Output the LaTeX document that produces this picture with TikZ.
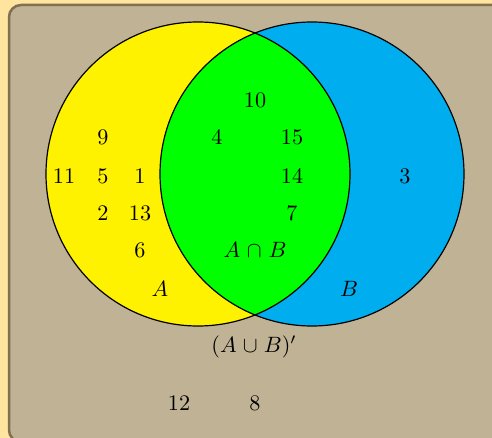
\documentclass[tikz,border=0pt]{standalone}
\definecolor{pageorange}{RGB}{255,228,160}
\definecolor{tanfill}{RGB}{192,178,148}
\definecolor{tanborder}{RGB}{128,112,80}
\definecolor{vyellow}{RGB}{255,242,0}
\definecolor{vblue}{RGB}{0,174,239}
\definecolor{vgreen}{RGB}{0,255,0}
\newcommand{\bigtxt}[1]{\scalebox{2.22}{#1}}
\tikzset{
  lbl/.style={inner sep=0pt},
  setcirc/.style={draw=black, line width=1.2pt}
}
\begin{document}
\begin{tikzpicture}[x=1pt,y=-1pt]
  \useasboundingbox (0,0) rectangle (492,438);
  \fill[pageorange] (0,0) rectangle (492,438);
  \begin{scope}
    \clip (0,0) rectangle (492,438);
    \draw[fill=tanfill, draw=tanborder, line width=2.5pt, rounded corners=12pt] (9,5) rectangle (505,442);
  \end{scope}
  \coordinate (ca) at (198,174);
  \coordinate (cb) at (312,174);
  \fill[vyellow] (ca) circle[radius=152];
  \fill[vblue] (cb) circle[radius=152];
  \begin{scope}
    \clip (ca) circle[radius=152];
    \fill[vgreen] (cb) circle[radius=152];
  \end{scope}
  \draw[setcirc] (ca) circle[radius=152];
  \draw[setcirc] (cb) circle[radius=152];

  \node[lbl] (n10) at (255,100) {\bigtxt{10}};
  \node[lbl] (n9) at (103,137) {\bigtxt{9}};
  \node[lbl] (n4) at (217,137) {\bigtxt{4}};
  \node[lbl] (n15) at (292,137) {\bigtxt{15}};
  \node[lbl] (n11) at (64,176) {\bigtxt{11}};
  \node[lbl] (n5) at (103,176) {\bigtxt{5}};
  \node[lbl] (n1) at (140,176) {\bigtxt{1}};
  \node[lbl] (n14) at (292,176) {\bigtxt{14}};
  \node[lbl] (n3) at (405,176) {\bigtxt{3}};
  \node[lbl] (n2) at (103,213) {\bigtxt{2}};
  \node[lbl] (n13) at (140,213) {\bigtxt{13}};
  \node[lbl] (n7) at (292,213) {\bigtxt{7}};
  \node[lbl] (n6) at (140,250) {\bigtxt{6}};
  \node[lbl] (nab) at (255,250) {\bigtxt{$A\mkern1.5mu\cap\mkern1.5mu B$}};
  \node[lbl] (na) at (160,289) {\bigtxt{$A$}};
  \node[lbl] (nb) at (349,289) {\bigtxt{$B$}};
  \node[lbl] (nu) at (254,347) {\bigtxt{$(A\mkern1mu\cup\mkern1mu B)'$}};
  \node[lbl] (n12) at (179,403) {\bigtxt{12}};
  \node[lbl] (n8) at (255,403) {\bigtxt{8}};
\end{tikzpicture}
\end{document}
